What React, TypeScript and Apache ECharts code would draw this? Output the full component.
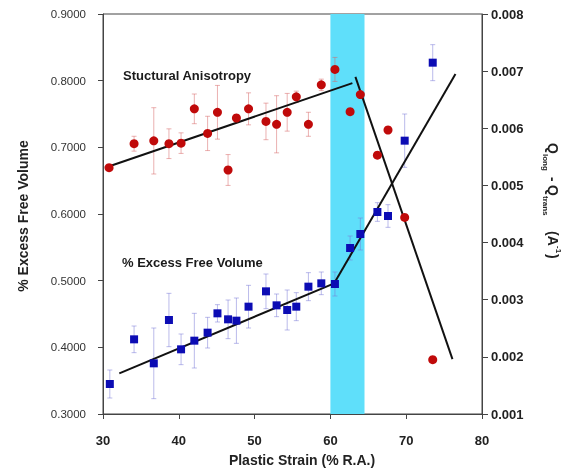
import React, { useEffect, useRef } from "react";
import * as echarts from "echarts";

// ---- data ----
const strainRed = [30.8, 34.1, 36.7, 38.7, 40.3, 42.05, 43.8, 45.1, 46.5, 47.6, 49.2, 51.5, 52.9, 54.3, 55.5, 57.1, 58.8, 60.6, 62.6, 63.95, 66.2, 67.6, 69.8, 73.5];
const anisotropy = [0.00531, 0.00573, 0.00578, 0.00573, 0.00574, 0.00634, 0.00591, 0.00628, 0.00527, 0.00618, 0.00634, 0.00612, 0.00607, 0.00628, 0.00655, 0.00607, 0.00676, 0.00703, 0.00629, 0.00659, 0.00553, 0.00597, 0.00444, 0.00195];
const anisotropyErr = [0, 0.00013, 0.00058, 0.00026, 0.00018, 0.00026, 0.0003, 0.00047, 0.00027, 0, 0.00028, 0.00032, 0.0005, 0.00033, 0.0001, 0.00021, 0.0001, 0.00021, 0, 0, 0, 0, 0, 0];

const strainBlue = [30.9, 34.1, 36.7, 38.7, 40.3, 42.05, 43.8, 45.1, 46.5, 47.6, 49.2, 51.5, 52.9, 54.3, 55.5, 57.1, 58.8, 60.6, 62.6, 63.95, 66.2, 67.6, 69.8, 73.5];
const freeVolume = [0.345, 0.412, 0.376, 0.441, 0.397, 0.41, 0.422, 0.451, 0.442, 0.44, 0.461, 0.484, 0.463, 0.456, 0.461, 0.491, 0.496, 0.495, 0.549, 0.57, 0.603, 0.597, 0.71, 0.827];
const freeVolumeErr = [0.021, 0.02, 0.053, 0.04, 0.023, 0.041, 0.023, 0.013, 0.029, 0.034, 0.032, 0.026, 0.017, 0.03, 0.021, 0.021, 0.017, 0.018, 0.018, 0.024, 0.014, 0.017, 0.04, 0.027];

const anisoFitA = [[30.26, 0.00531], [62.9, 0.00679]];
const anisoFitB = [[63.3, 0.0069], [76.1, 0.00196]];
const volumeFitA = [[32.15, 0.361], [60.5, 0.496]];
const volumeFitB = [[60.5, 0.496], [76.5, 0.81]];

const bandRange = [60, 64.5];

const FONT = 'Arial, "Liberation Sans", Helvetica, sans-serif';

function errRender(color: string) {
  return (params: any, api: any) => {
    const x = api.value(0);
    const y = api.value(1);
    const e = api.value(2);
    if (!e) return null;
    const top = api.coord([x, y + e]);
    const bot = api.coord([x, y - e]);
    const w = 2.5;
    const style = { stroke: color, lineWidth: 1 };
    return {
      type: "group",
      children: [
        { type: "line", shape: { x1: top[0], y1: top[1], x2: bot[0], y2: bot[1] }, style },
        { type: "line", shape: { x1: top[0] - w, y1: top[1], x2: top[0] + w, y2: top[1] }, style },
        { type: "line", shape: { x1: bot[0] - w, y1: bot[1], x2: bot[0] + w, y2: bot[1] }, style },
      ],
    };
  };
}

export default function App() {
  const ref = useRef<HTMLDivElement>(null);
  useEffect(() => {
    if (!ref.current) return;
    const chart = echarts.init(ref.current, null, { renderer: "svg" });
    const redPts = strainRed.map((x, i) => [x, anisotropy[i], anisotropyErr[i]]);
    const bluePts = strainBlue.map((x, i) => [x, freeVolume[i], freeVolumeErr[i]]);
    const fitLine = (data: number[][], yIdx: number) => ({
      type: "line",
      yAxisIndex: yIdx,
      data,
      symbol: "none",
      lineStyle: { color: "#111", width: 2 },
      z: 3,
      silent: true,
    });
    chart.setOption({
      animation: false,
      textStyle: { fontFamily: FONT },
      grid: { left: 103, right: 82, top: 14, bottom: 54, show: true, borderColor: "#444", borderWidth: 1, backgroundColor: "transparent" },
      xAxis: {
        type: "value",
        min: 30,
        max: 80,
        interval: 10,
        axisLine: { show: true, onZero: false, lineStyle: { color: "#444" } },
        axisTick: { show: true, inside: false, length: 5, lineStyle: { color: "#444" } },
        axisLabel: { margin: 20, fontSize: 13, fontWeight: "bold", color: "#222", fontFamily: FONT },
        splitLine: { show: false },
      },
      yAxis: [
        {
          type: "value",
          position: "left",
          min: 0.3,
          max: 0.9,
          interval: 0.1,
          axisLine: { show: true, lineStyle: { color: "#444" } },
          axisTick: { show: true, length: 5, lineStyle: { color: "#444" } },
          axisLabel: { margin: 17, fontSize: 11.5, color: "#333", fontFamily: FONT, formatter: (v: number) => v.toFixed(4) },
          splitLine: { show: false },
        },
        {
          type: "value",
          position: "right",
          min: 0.001,
          max: 0.008,
          interval: 0.001,
          axisLine: { show: true, lineStyle: { color: "#444" } },
          axisTick: { show: true, length: 6, lineStyle: { color: "#444" } },
          axisLabel: { margin: 9, fontSize: 13, fontWeight: "bold", color: "#222", fontFamily: FONT, formatter: (v: number) => v.toFixed(3) },
          splitLine: { show: false },
        },
      ],
      series: [
        {
          type: "line",
          data: [],
          yAxisIndex: 0,
          z: 0,
          markArea: {
            silent: true,
            itemStyle: { color: "#5fdffa", opacity: 1 },
            data: [[{ xAxis: bandRange[0] }, { xAxis: bandRange[1] }]],
          },
        },
        {
          type: "custom",
          yAxisIndex: 1,
          data: redPts,
          encode: { x: 0, y: 1 },
          renderItem: errRender("rgba(215,100,100,0.5)"),
          z: 2,
          silent: true,
        },
        {
          type: "custom",
          yAxisIndex: 0,
          data: bluePts,
          encode: { x: 0, y: 1 },
          renderItem: errRender("rgba(120,120,215,0.5)"),
          z: 2,
          silent: true,
        },
        fitLine(anisoFitA, 1),
        fitLine(anisoFitB, 1),
        fitLine(volumeFitA, 0),
        fitLine(volumeFitB, 0),
        {
          type: "scatter",
          yAxisIndex: 1,
          data: redPts.map((p) => [p[0], p[1]]),
          symbol: "circle",
          symbolSize: 9,
          itemStyle: { color: "#c00a0a", opacity: 1 },
          z: 4,
        },
        {
          type: "scatter",
          yAxisIndex: 0,
          data: bluePts.map((p) => [p[0], p[1]]),
          symbol: "rect",
          symbolSize: 8,
          itemStyle: { color: "#0c0cb4", opacity: 1 },
          z: 4,
        },
      ],
      graphic: [
        {
          type: "text",
          x: 123,
          y: 75,
          style: { text: "Stuctural Anisotropy", font: `bold 13px ${FONT}`, fill: "#1a1a1a", verticalAlign: "middle" },
        },
        {
          type: "text",
          x: 122,
          y: 262,
          style: { text: "% Excess Free Volume", font: `bold 13px ${FONT}`, fill: "#1a1a1a", verticalAlign: "middle" },
        },
        {
          type: "text",
          x: 302,
          y: 460,
          style: { text: "Plastic Strain (% R.A.)", font: `bold 14px ${FONT}`, fill: "#222", align: "center", verticalAlign: "middle" },
        },
        {
          type: "text",
          x: 23,
          y: 216,
          rotation: Math.PI / 2,
          style: { text: "% Excess Free Volume", font: `bold 14px ${FONT}`, fill: "#222", align: "center", verticalAlign: "middle" },
        },
        {
          type: "group",
          x: 553,
          y: 143,
          rotation: -Math.PI / 2,
          children: [
            { type: "text", x: 0, y: 0, style: { text: "Q", font: `bold 14px ${FONT}`, fill: "#222", verticalAlign: "middle" } },
            { type: "text", x: 11, y: 8, style: { text: "long", font: `bold 8px ${FONT}`, fill: "#222", verticalAlign: "middle" } },
            { type: "text", x: 34, y: 0, style: { text: "-", font: `bold 14px ${FONT}`, fill: "#222", verticalAlign: "middle" } },
            { type: "text", x: 42, y: 0, style: { text: "Q", font: `bold 14px ${FONT}`, fill: "#222", verticalAlign: "middle" } },
            { type: "text", x: 53, y: 8, style: { text: "trans", font: `bold 8px ${FONT}`, fill: "#222", verticalAlign: "middle" } },
            { type: "text", x: 88, y: 0, style: { text: "(A", font: `bold 14px ${FONT}`, fill: "#222", verticalAlign: "middle" } },
            { type: "text", x: 103, y: -5, style: { text: "-1", font: `bold 8px ${FONT}`, fill: "#222", verticalAlign: "middle" } },
            { type: "text", x: 111, y: 0, style: { text: ")", font: `bold 14px ${FONT}`, fill: "#222", verticalAlign: "middle" } },
          ],
        },
      ],
    });
    return () => chart.dispose();
  }, []);
  return <div ref={ref} style={{ position: "fixed", left: 0, top: 0, width: 564, height: 468 }} />;
}
